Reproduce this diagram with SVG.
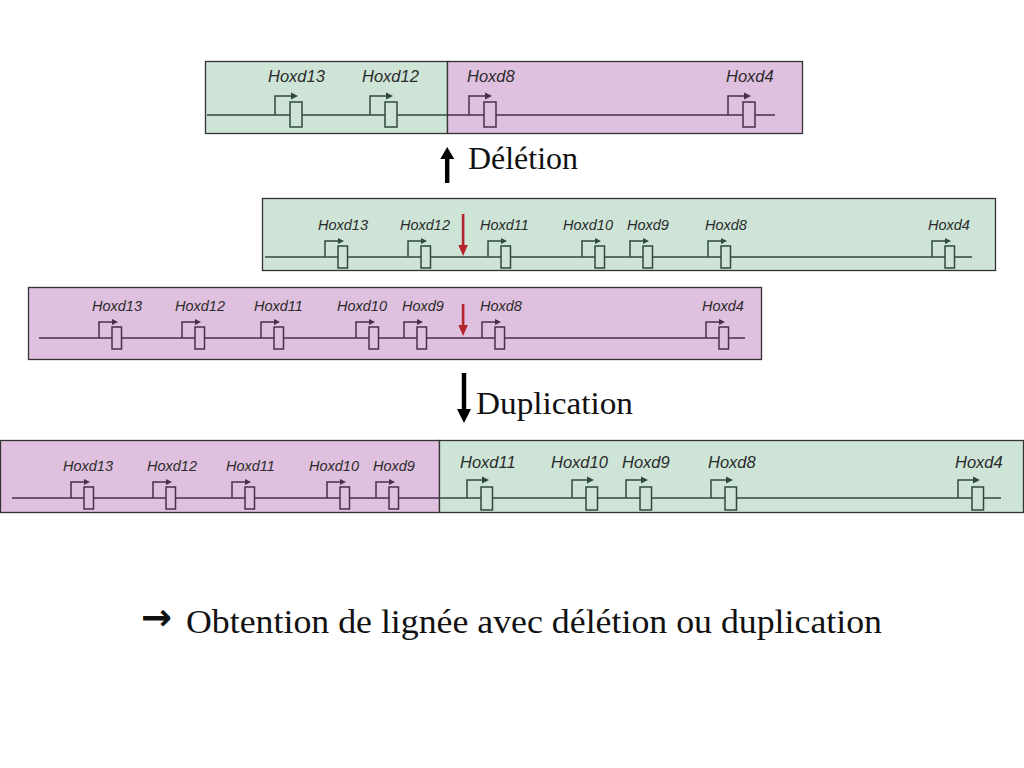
<svg xmlns="http://www.w3.org/2000/svg" xmlns:xlink="http://www.w3.org/1999/xlink" width="1024" height="768" viewBox="0 0 1024 768">
<style>
.bgG{fill:#cde4d6;stroke:#333;stroke-width:1.3}
.bgP{fill:#dfc0de;stroke:#333;stroke-width:1.3}
.lnG{stroke:#2f4a3c;stroke-width:1.6;fill:none}
.lnP{stroke:#4a2e4a;stroke-width:1.6;fill:none}
.gG{color:#2f4a3c;stroke:#2f4a3c;stroke-width:1.5;fill:#cde4d6}
.gP{color:#4a2e4a;stroke:#4a2e4a;stroke-width:1.5;fill:#dfc0de}
.lb{font-family:"Liberation Sans",Arial,sans-serif;font-style:italic;fill:#2b2b2b}
.l1{font-size:16.5px}
.l2{font-size:14.5px}
.sf{font-family:"Liberation Serif","Times New Roman",serif;fill:#111}
.red{fill:#b3242b;stroke:none}
</style>
<defs>
<g id="gL"><path d="M0 0V-19H16" fill="none"/><path d="M16 -22.5L23 -19L16 -15.5Z" fill="currentColor" stroke="none"/><rect x="15" y="-13" width="12" height="25"/></g>
<g id="gL2"><path d="M0 0V-18H15" fill="none"/><path d="M15 -21.5L22 -18L15 -14.5Z" fill="currentColor" stroke="none"/><rect x="14" y="-11" width="11.5" height="23"/></g>
<g id="gS"><path d="M0 0V-16H13" fill="none"/><path d="M13 -19L19 -16L13 -13Z" fill="currentColor" stroke="none"/><rect x="13" y="-11" width="9.5" height="22"/></g>
</defs>

<g id="panel-deletion">
<rect class="bgG" x="205.5" y="61.5" width="242" height="72"/>
<rect class="bgP" x="447.5" y="61.5" width="355" height="72"/>
<line class="lnG" x1="207" y1="115" x2="447" y2="115"/>
<line class="lnP" x1="447" y1="115" x2="775" y2="115"/>
<use class="gG" xlink:href="#gL" x="275" y="115"/>
<use class="gG" xlink:href="#gL" x="370" y="115"/>
<use class="gP" xlink:href="#gL" x="469" y="115"/>
<use class="gP" xlink:href="#gL" x="728" y="115"/>
<text class="lb l1" x="268" y="82">Hoxd13</text>
<text class="lb l1" x="362" y="82">Hoxd12</text>
<text class="lb l1" x="467" y="82">Hoxd8</text>
<text class="lb l1" x="726" y="82">Hoxd4</text>
</g>

<g id="panel-green">
<rect class="bgG" x="262.5" y="198.5" width="733" height="72"/>
<line class="lnG" x1="265" y1="257" x2="972" y2="257"/>
<use class="gG" xlink:href="#gS" x="325" y="257"/>
<use class="gG" xlink:href="#gS" x="408" y="257"/>
<use class="gG" xlink:href="#gS" x="488" y="257"/>
<use class="gG" xlink:href="#gS" x="582" y="257"/>
<use class="gG" xlink:href="#gS" x="630" y="257"/>
<use class="gG" xlink:href="#gS" x="708" y="257"/>
<use class="gG" xlink:href="#gS" x="932" y="257"/>
<text class="lb l2" x="318" y="230">Hoxd13</text>
<text class="lb l2" x="400" y="230">Hoxd12</text>
<text class="lb l2" x="480" y="230">Hoxd11</text>
<text class="lb l2" x="563" y="230">Hoxd10</text>
<text class="lb l2" x="627" y="230">Hoxd9</text>
<text class="lb l2" x="705" y="230">Hoxd8</text>
<text class="lb l2" x="928" y="230">Hoxd4</text>
</g>

<g id="panel-purple">
<rect class="bgP" x="28.5" y="287.5" width="733" height="72"/>
<line class="lnP" x1="39" y1="338" x2="745" y2="338"/>
<use class="gP" xlink:href="#gS" x="99" y="338"/>
<use class="gP" xlink:href="#gS" x="182" y="338"/>
<use class="gP" xlink:href="#gS" x="261" y="338"/>
<use class="gP" xlink:href="#gS" x="356" y="338"/>
<use class="gP" xlink:href="#gS" x="404" y="338"/>
<use class="gP" xlink:href="#gS" x="482" y="338"/>
<use class="gP" xlink:href="#gS" x="706" y="338"/>
<text class="lb l2" x="92" y="311">Hoxd13</text>
<text class="lb l2" x="175" y="311">Hoxd12</text>
<text class="lb l2" x="254" y="311">Hoxd11</text>
<text class="lb l2" x="337" y="311">Hoxd10</text>
<text class="lb l2" x="402" y="311">Hoxd9</text>
<text class="lb l2" x="480" y="311">Hoxd8</text>
<text class="lb l2" x="702" y="311">Hoxd4</text>
</g>

<g id="panel-duplication">
<rect class="bgP" x="0.5" y="440.5" width="439" height="72"/>
<rect class="bgG" x="439.5" y="440.5" width="584" height="72"/>
<line class="lnP" x1="12" y1="498" x2="439" y2="498"/>
<line class="lnG" x1="439" y1="498" x2="1001" y2="498"/>
<use class="gP" xlink:href="#gS" x="71" y="498"/>
<use class="gP" xlink:href="#gS" x="153" y="498"/>
<use class="gP" xlink:href="#gS" x="232" y="498"/>
<use class="gP" xlink:href="#gS" x="327" y="498"/>
<use class="gP" xlink:href="#gS" x="376" y="498"/>
<use class="gG" xlink:href="#gL2" x="467" y="498"/>
<use class="gG" xlink:href="#gL2" x="572" y="498"/>
<use class="gG" xlink:href="#gL2" x="626" y="498"/>
<use class="gG" xlink:href="#gL2" x="711" y="498"/>
<use class="gG" xlink:href="#gL2" x="958" y="498"/>
<text class="lb l2" x="63" y="471">Hoxd13</text>
<text class="lb l2" x="147" y="471">Hoxd12</text>
<text class="lb l2" x="226" y="471">Hoxd11</text>
<text class="lb l2" x="309" y="471">Hoxd10</text>
<text class="lb l2" x="373" y="471">Hoxd9</text>
<text class="lb l1" x="460" y="468">Hoxd11</text>
<text class="lb l1" x="551" y="468">Hoxd10</text>
<text class="lb l1" x="622" y="468">Hoxd9</text>
<text class="lb l1" x="708" y="468">Hoxd8</text>
<text class="lb l1" x="955" y="468">Hoxd4</text>
</g>

<g id="connectors">
<g id="red-arrow-1"><rect class="red" x="461.8" y="214" width="2.6" height="32"/><path class="red" d="M458.3 245H467.9L463.1 256Z"/></g>
<g id="red-arrow-2"><rect class="red" x="461.8" y="304" width="2.6" height="22"/><path class="red" d="M458.3 325H467.9L463.1 336Z"/></g>
<g id="arrow-deletion"><rect x="445" y="157" width="4.4" height="26" fill="#000"/><path d="M440.2 159H454.2L447.2 147Z" fill="#000"/></g>
<g id="arrow-duplication"><rect x="461.8" y="373" width="4.4" height="38" fill="#000"/><path d="M457 409H471L464 423Z" fill="#000"/></g>
</g>

<g id="labels">
<text class="sf" x="468" y="169" font-size="32" textLength="110" lengthAdjust="spacingAndGlyphs">Délétion</text>
<text class="sf" x="476" y="414" font-size="32" textLength="157" lengthAdjust="spacingAndGlyphs">Duplication</text>
<text x="141" y="630" font-family="DejaVu Sans,sans-serif" font-weight="bold" font-size="37" fill="#111">→</text>
<text class="sf" x="186" y="633" font-size="33" textLength="696" lengthAdjust="spacingAndGlyphs">Obtention de lignée avec délétion ou duplication</text>
</g>
</svg>
